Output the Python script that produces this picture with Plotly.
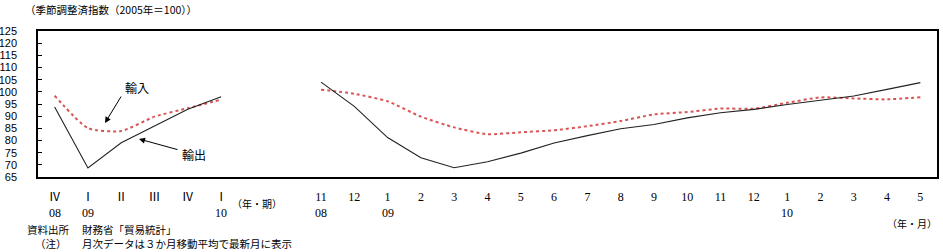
import plotly.graph_objects as go

# ---- data ----
quarter_labels = ['Ⅳ', 'Ⅰ', 'Ⅱ', 'Ⅲ', 'Ⅳ', 'Ⅰ']
quarter_years = ['08', '09', '', '', '', '10']
month_labels = ['11', '12', '1', '2', '3', '4', '5', '6', '7', '8', '9', '10',
                '11', '12', '1', '2', '3', '4', '5']
month_years = ['08', '', '09', '', '', '', '', '', '', '', '', '',
               '', '', '10', '', '', '', '']
export_q = [93.8, 68.7, 79.1, 86.0, 92.8, 98.0]
import_q = [98.4, 85.1, 83.9, 89.8, 93.3, 96.8]
export_m = [104.0, 94.0, 81.2, 72.9, 68.8, 71.3, 74.8, 79.0, 82.0, 84.8, 86.6,
            89.3, 91.4, 92.8, 94.8, 96.6, 98.3, 101.0, 103.8]
import_m = [100.9, 99.2, 96.1, 89.8, 85.4, 82.6, 83.4, 84.2, 85.9, 88.0, 90.7,
            91.7, 93.1, 93.1, 95.5, 97.7, 97.3, 96.9, 97.8]
gap = 2  # empty category slots between the two panels

# ---- build ----
labels = quarter_labels + [''] * gap + month_labels
years = quarter_years + [''] * gap + month_years
xs = list(range(len(labels)))
exp_vals = export_q + [None] * gap + export_m
imp_vals = import_q + [None] * gap + import_m

W, H = 943, 252
ML, MR, MT, MB = 38, 6, 31, 75
JP = "Noto Sans CJK JP"

fig = go.Figure()
fig.add_trace(go.Scatter(x=xs, y=imp_vals, mode='lines', connectgaps=False,
                         line=dict(color='#d85555', width=2, dash='dot',
                                   shape='spline', smoothing=0.6),
                         name='輸入', showlegend=False, hoverinfo='skip'))
fig.add_trace(go.Scatter(x=xs, y=exp_vals, mode='lines', connectgaps=False,
                         line=dict(color='#222222', width=1.1),
                         name='輸出', showlegend=False, hoverinfo='skip'))

fig.update_layout(
    width=W, height=H,
    margin=dict(l=ML, r=MR, t=MT, b=MB, autoexpand=False),
    plot_bgcolor='white', paper_bgcolor='white',
    xaxis=dict(range=[-0.5, len(labels) - 0.5], tickmode='array',
               tickvals=xs, ticktext=labels, ticks='', showgrid=False,
               zeroline=False, showline=True, linecolor='black', linewidth=1.5,
               mirror=True, ticklabelstandoff=8, automargin=False,
               tickfont=dict(family='Liberation Serif, ' + JP, size=12, color='black')),
    yaxis=dict(range=[65, 125], dtick=5, tick0=65, ticks='inside', ticklen=4,
               tickcolor='black', showgrid=False, zeroline=False,
               showline=True, linecolor='black', linewidth=1.5, mirror=True,
               ticklabelstandoff=17, automargin=False,
               tickfont=dict(family='Liberation Sans', size=11, color='black')),
)

PW = W - ML - MR
PH = H - MT - MB

def px(xp, yp):
    return (xp - ML) / PW, (H - MB - yp) / PH

def add_text(xp, yp, text, size, anchor='left', family=JP):
    ax_, ay_ = px(xp, yp)
    fig.add_annotation(x=ax_, y=ay_, xref='paper', yref='paper', text=text,
                       showarrow=False, xanchor=anchor, yanchor='middle',
                       font=dict(family=family, size=size, color='black'))

# year row under tick labels
for xi, yr in zip(xs, years):
    if yr:
        fig.add_annotation(x=xi, y=px(0, 213)[1], xref='x', yref='paper', text=yr,
                           showarrow=False, xanchor='center', yanchor='middle',
                           font=dict(family='Liberation Serif', size=12, color='black'))

# unit labels
add_text(257, 203, '（年・期）', 10, anchor='center')
add_text(912, 223, '（年・月）', 10, anchor='center')

add_text(23, 9, '（季節調整済指数（2005年＝100））', 10.5)
add_text(25, 230, '資料出所', 10.5)
add_text(80, 230, '財務省「貿易統計」', 10.5)
add_text(33, 243, '（注）', 10.5)
add_text(80, 243, '月次データは３か月移動平均で最新月に表示', 10.5)

# series labels with arrows
def to_data(xp, yp):
    return (xp - ML) / PW * len(labels) - 0.5, 125 - (yp - MT) / (PH / 60)

tx, ty = to_data(137, 87)
fig.add_annotation(x=tx, y=ty, text='輸入', showarrow=False,
                   font=dict(family=JP, size=12, color='black'))
tx, ty = to_data(194, 154)
fig.add_annotation(x=tx, y=ty, text='輸出', showarrow=False,
                   font=dict(family=JP, size=12, color='black'))
hx, hy = to_data(105, 123)
sx, sy = to_data(122, 95)
fig.add_annotation(x=hx, y=hy, ax=sx, ay=sy, axref='x', ayref='y', text='',
                   showarrow=True, arrowhead=2, arrowsize=1.2, arrowwidth=1,
                   arrowcolor='black')
hx, hy = to_data(139, 139)
sx, sy = to_data(179, 150)
fig.add_annotation(x=hx, y=hy, ax=sx, ay=sy, axref='x', ayref='y', text='',
                   showarrow=True, arrowhead=2, arrowsize=1.2, arrowwidth=1,
                   arrowcolor='black')

fig.write_html("out.html")
